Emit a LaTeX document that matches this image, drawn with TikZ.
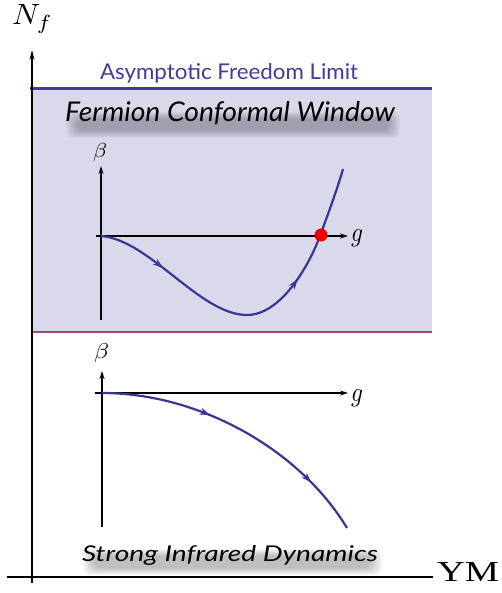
\documentclass[tikz,border=0pt]{standalone}
\usepackage{graphicx}
\usepackage{fontspec}
\setmainfont{Liberation Serif}
\setsansfont{Lato}
\usetikzlibrary{decorations.markings,arrows.meta}
\definecolor{afblue}{RGB}{64,60,152}
\definecolor{winfill}{RGB}{218,217,235}
\definecolor{edgemauve}{RGB}{160,72,122}
\definecolor{curveblue}{RGB}{58,54,150}
\definecolor{dotred}{RGB}{235,0,0}
\newcommand{\FCWtext}{\resizebox{330pt}{20pt}{\sffamily\itshape Fermion Conformal Window}}
\newcommand{\SIDtext}{\resizebox{296pt}{16pt}{\sffamily\itshape Strong Infrared Dynamics}}
\newcommand{\softbar}[4]{%
  \foreach \i in {0,...,7}
    \fill[black, opacity=0.035, rounded corners=7pt]
      (#1+\i*1.6,#2+\i) rectangle (#3-\i*1.6,#4-\i);}
\tikzset{
  mainaxis/.style={black, line width=1.3pt},
  inneraxis/.style={black, line width=2pt, -{Stealth[length=8pt,width=5pt]}},
  betacurve/.style={curveblue, line width=2.2pt},
  twoarrows/.style n args={2}{postaction={decorate}, decoration={markings,
      mark=at position #1 with {\arrow{Stealth[length=10pt,width=7pt]}},
      mark=at position #2 with {\arrow{Stealth[length=10pt,width=7pt]}}}},
  plain/.style={inner sep=0pt, outer sep=0pt},
}
\begin{document}
\begin{tikzpicture}[x=1pt,y=-1pt]
\useasboundingbox (0,0) rectangle (501,593);
% conformal window region
\fill[winfill] (32,89) rectangle (432,332);
\coordinate (afl) at (30,89);
\coordinate (afr) at (432,89);
\draw[afblue, line width=3pt] (afl) -- (afr);
\coordinate (cwl) at (32,332);
\coordinate (cwr) at (432,332);
\draw[edgemauve, line width=2.2pt] (cwl) -- (cwr);
% soft shadows of the two region labels
\softbar{66}{112}{400}{138}
\softbar{83}{549}{382}{575}
% main axes
\coordinate (yb) at (32,583);
\coordinate (yt) at (32,50);
\coordinate (xl) at (7,577);
\coordinate (xr) at (433,577);
\draw[mainaxis, -{Stealth[length=10pt,width=5pt]}] (yb) -- (yt);
\draw[mainaxis] (xl) -- (xr);
\node[plain, anchor=base west] (nf) at (12,25) {\resizebox{41pt}{20pt}{$N_f$}};
\node[plain, anchor=base west] (ym) at (437,581) {\resizebox{62pt}{19pt}{YM}};
% labels
\node[plain, anchor=base west, text=afblue] (aflabel) at (100,80)
  {\resizebox{258pt}{16pt}{\sffamily Asymptotic Freedom Limit}};
\node[plain, anchor=base west] (fcw) at (65,122) {\FCWtext};
% upper beta function plot
\coordinate (b1b) at (101,320);
\coordinate (b1t) at (101,166);
\coordinate (g1l) at (96,236);
\coordinate (g1r) at (348,236);
\draw[inneraxis] (b1b) -- (b1t);
\draw[inneraxis] (g1l) -- (g1r);
\node[plain, anchor=north west] (beta1) at (93,143) {\resizebox*{14pt}{18pt}{$\beta$}};
\node[plain, anchor=north west] (gl1) at (351,230) {\resizebox*{12pt}{17pt}{$g$}};
\coordinate (c1s) at (101,236);
\coordinate (c1m) at (247,315);
\coordinate (fp) at (320,236);
\coordinate (c1e) at (343,169);
\draw[betacurve, twoarrows={0.2}{0.66}] (c1s) .. controls (150,240) and (200,315) .. (c1m)
  .. controls (280,315) and (308,268) .. (fp)
  .. controls (328,214) and (337,190) .. (c1e);
\fill[dotred] (321,235) circle[radius=6.5];
% lower beta function plot
\coordinate (b2b) at (102,527);
\coordinate (b2t) at (102,371);
\coordinate (g2l) at (95,393);
\coordinate (g2r) at (348,393);
\draw[inneraxis] (b2b) -- (b2t);
\draw[inneraxis] (g2l) -- (g2r);
\node[plain, anchor=north west] (beta2) at (94,344) {\resizebox*{15pt}{19pt}{$\beta$}};
\node[plain, anchor=north west] (gl2) at (351,390) {\resizebox*{12pt}{17pt}{$g$}};
\coordinate (c2s) at (102,393);
\coordinate (c2e) at (347,528);
\draw[betacurve, twoarrows={0.38}{0.8}] (c2s) .. controls (200,393) and (300,450) .. (c2e);
% strong dynamics label
\node[plain, anchor=base west] (sid) at (82,561) {\SIDtext};
\end{tikzpicture}
\end{document}
